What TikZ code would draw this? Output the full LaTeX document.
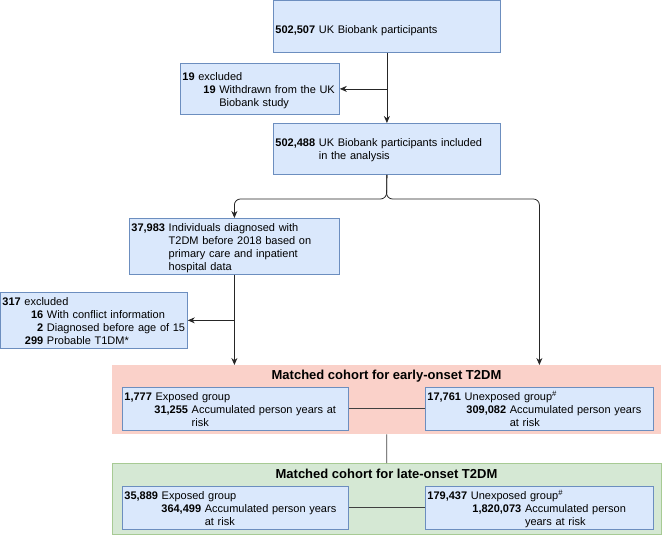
\documentclass[tikz,border=0pt]{standalone}
\usepackage{fontspec}
\setmainfont{Liberation Sans}
\usetikzlibrary{arrows.meta}

\definecolor{boxfill}{HTML}{DAE8FC}
\definecolor{boxline}{HTML}{6C8EBF}
\definecolor{earlyfill}{HTML}{FAD1C9}
\definecolor{latefill}{HTML}{D5E8D4}
\definecolor{lateline}{HTML}{82B366}

% bold count, then the text hung under its first word
\newcommand{\hangitem}[2]{\textbf{#1} \begin{tabular}[t]{@{}l@{}}#2\end{tabular}}

\begin{document}
\begin{tikzpicture}[
  x=1pt, y=-1pt,
  box/.style={draw=boxline,fill=boxfill,anchor=north west,align=left,inner xsep=2pt,inner ysep=0pt,
    line width=0.8pt,font=\fontsize{11}{13}\selectfont,execute at begin node={\rule{0pt}{13pt}}},
  grp/.style={anchor=north west,inner sep=0pt,minimum width=549pt},
  ttl/.style={font=\fontsize{13}{15}\selectfont\bfseries},
  arr/.style={black!85,line width=0.8pt,-{Stealth[length=7pt,width=6pt]}},
  link/.style={black!75,line width=0.8pt}
]
  \useasboundingbox (0,0) rectangle (662,536);

  % cohort panels
  \node[grp,fill=earlyfill,minimum height=69pt] (early) at (112,365) {};
  \node[grp,fill=latefill,draw=lateline!70,line width=0.6pt,minimum height=71pt] (late) at (112,463) {};
  \node[ttl] (t1) at (386.5,376) {Matched cohort for early-onset T2DM};
  \node[ttl] (t2) at (386.5,474) {Matched cohort for late-onset T2DM};

  % flow boxes
  \node[box,text width=223pt,minimum height=52pt,execute at begin node={\rule{0pt}{16pt}}] (all) at (273,0)
    {\textbf{502,507} UK Biobank participants};
  \node[box,text width=155pt,minimum height=51pt] (wd) at (180,63)
    {\textbf{19} excluded\\\hspace*{21pt}\hangitem{19}{Withdrawn from the UK\\Biobank study}};
  \node[box,text width=223pt,minimum height=51pt] (incl) at (273,123)
    {\hangitem{502,488}{UK Biobank participants included\\in the analysis}};
  \node[box,text width=206pt,minimum height=56pt] (dm) at (129,218)
    {\hangitem{37,983}{Individuals diagnosed with\\T2DM before 2018 based on\\primary care and inpatient\\hospital data}};
  \node[box,text width=183pt,minimum height=54pt] (exc) at (0,292)
    {\textbf{317} excluded\\\hspace*{22.5pt}\begin{tabular}[t]{@{}r@{ }l@{}}
      \textbf{16} & With conflict information\\
      \textbf{2} & Diagnosed before age of 15\\
      \textbf{299} & Probable T1DM*\end{tabular}};

  % group boxes
  \node[box,text width=222pt,minimum height=39pt] (ee) at (122,387)
    {\textbf{1,777} Exposed group\\\hspace*{30pt}\hangitem{31,255}{Accumulated person years at\\risk}};
  \node[box,text width=224pt,minimum height=39pt] (eu) at (425,387)
    {\textbf{17,761} Unexposed group\textsuperscript{\#}\\\hspace*{39pt}\hangitem{309,082}{Accumulated person years\\at risk}};
  \node[box,text width=222pt,minimum height=41pt] (le) at (122,486)
    {\textbf{35,889} Exposed group\\\hspace*{37pt}\hangitem{364,499}{Accumulated person years\\at risk}};
  \node[box,text width=224pt,minimum height=41pt] (lu) at (425,486)
    {\textbf{179,437} Unexposed group\textsuperscript{\#}\\\hspace*{45pt}\hangitem{1,820,073}{Accumulated person\\years at risk}};

  \coordinate (j1) at (all.south |- wd.east);
  \coordinate (split) at (386.5,199);
  \coordinate (j2) at (dm.south |- exc.east);
  \coordinate (eutop) at (eu.north |- early.north);

  \draw[arr] (all) -- (incl);
  \draw[arr] (j1) -- (wd.east);
  \draw[arr,rounded corners=6pt] (incl.south) -- (split) -| (dm.north);
  \draw[arr,rounded corners=6pt] (incl.south) -- (split) -| (eutop);
  \draw[arr] (dm.south) -- (dm.south |- early.north);
  \draw[arr] (j2) -- (exc.east);
  \draw[link] (ee) -- (eu);
  \draw[link] (le) -- (lu);
  \draw[link] (early) -- (late);
\end{tikzpicture}
\end{document}
